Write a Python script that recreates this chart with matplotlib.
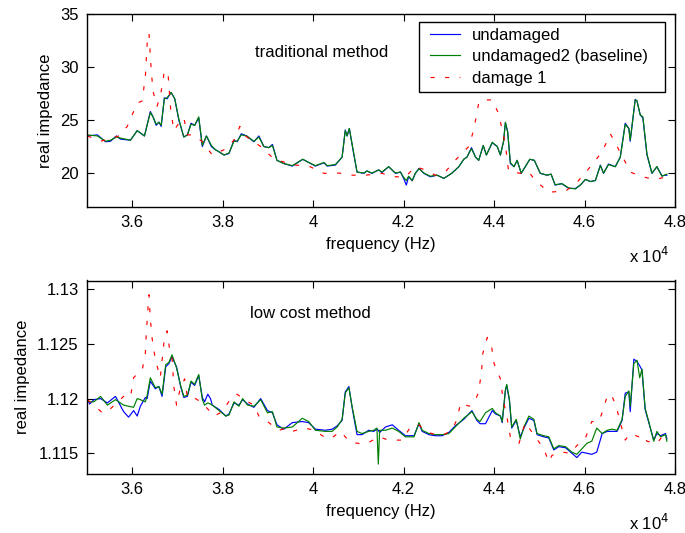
import matplotlib
matplotlib.use("Agg")
import matplotlib.pyplot as plt
from matplotlib.patches import Rectangle
from matplotlib.ticker import FuncFormatter

# ── Data (frequency in Hz) ────────────────────────────────────────────────────

# traditional method
trad_freq = [35010, 35230, 35410, 35520, 35650, 35740, 35960, 36110, 36270, 36400,
             36460, 36530, 36590, 36640, 36710, 36770, 36860, 36940, 37030, 37140,
             37220, 37300, 37380, 37470, 37550, 37640, 37750, 37840, 37920, 38030,
             38140, 38250, 38320, 38410, 38530, 38690, 38800, 38910, 39020, 39100,
             39200, 39350, 39540, 39770, 39900, 40050, 40240, 40310, 40490, 40640,
             40710, 40750, 40800, 40880, 40970, 41120, 41190, 41300, 41450, 41520,
             41670, 41820, 41930, 42000, 42060, 42110, 42190, 42260, 42340, 42450,
             42590, 42740, 42890, 43070, 43220, 43330, 43400, 43500, 43590, 43660,
             43760, 43830, 43960, 44070, 44140, 44210, 44250, 44300, 44360, 44440,
             44510, 44600, 44690, 44790, 44890, 45020, 45170, 45260, 45350, 45500,
             45650, 45800, 45910, 46020, 46130, 46240, 46350, 46420, 46530, 46680,
             46790, 46900, 46980, 47010, 47120, 47160, 47230, 47290, 47380, 47490,
             47600, 47710, 47820]
trad_undamaged = [23.5, 23.6, 22.95, 23.0, 23.5, 23.2, 23.1, 24.0, 23.5, 25.8,
                  25.3, 24.5, 24.8, 24.4, 27.1, 27.0, 27.6, 27.0, 25.0, 23.4,
                  23.6, 24.7, 24.5, 25.2, 22.5, 23.5, 22.5, 22.2, 22.0, 21.7,
                  21.85, 23.1, 22.95, 23.7, 23.5, 22.95, 23.5, 22.5, 22.4, 22.7,
                  21.2, 20.9, 20.66, 21.3, 21.0, 20.66, 20.97, 20.66, 20.75, 21.5,
                  24.06, 23.5, 24.2, 22.2, 20.1, 19.97, 20.2, 19.97, 20.3, 20.05,
                  20.6, 19.97, 20.1, 19.5, 18.87, 19.65, 19.27, 19.97, 20.44, 19.97,
                  19.65, 19.8, 19.5, 20.0, 20.6, 21.3, 21.5, 22.4, 21.5, 21.2,
                  22.6, 21.7, 22.86, 22.5, 21.7, 23.0, 24.75, 23.9, 20.9, 20.6,
                  21.2, 19.97, 20.6, 21.3, 21.2, 19.97, 19.8, 19.9, 18.87, 19.0,
                  18.55, 18.55, 18.87, 19.4, 19.2, 19.3, 20.75, 19.97, 20.85, 20.6,
                  21.5, 24.7, 24.2, 23.0, 26.95, 26.8, 25.5, 25.2, 21.7, 19.97,
                  20.6, 19.75, 19.8]
trad_baseline = [23.6, 23.5, 23.0, 23.1, 23.4, 23.3, 23.1, 24.0, 23.5, 25.7,
                 25.3, 24.6, 24.8, 24.5, 27.0, 27.1, 27.6, 27.0, 25.1, 23.4,
                 23.6, 24.6, 24.5, 25.3, 22.6, 23.5, 22.6, 22.2, 22.0, 21.7,
                 21.9, 23.0, 23.0, 23.6, 23.5, 23.0, 23.4, 22.5, 22.4, 22.6,
                 21.2, 20.9, 20.7, 21.3, 21.0, 20.7, 21.0, 20.7, 20.8, 21.5,
                 24.0, 23.5, 24.2, 22.3, 20.1, 20.0, 20.2, 20.0, 20.3, 20.1,
                 20.6, 20.0, 20.1, 19.6, 19.3, 19.7, 19.3, 20.0, 20.4, 20.0,
                 19.7, 19.8, 19.5, 20.0, 20.6, 21.3, 21.5, 22.3, 21.5, 21.2,
                 22.6, 21.7, 22.9, 22.5, 21.7, 23.0, 24.8, 23.9, 21.0, 20.6,
                 21.2, 20.0, 20.6, 21.3, 21.2, 20.0, 19.8, 19.9, 18.9, 19.0,
                 18.6, 18.5, 18.9, 19.4, 19.2, 19.3, 20.7, 20.0, 20.8, 20.6,
                 21.5, 24.6, 24.2, 23.1, 26.9, 26.8, 25.5, 25.3, 21.8, 20.0,
                 20.6, 19.7, 19.9]

trad_dmg_freq = [35010, 35300, 35710, 35890, 36000, 36110, 36220, 36290, 36330, 36370,
                 36420, 36460, 36550, 36640, 36710, 36790, 36850, 36920, 37030, 37140,
                 37220, 37360, 37550, 37770, 38030, 38250, 38380, 38500, 38840, 39090,
                 39240, 39450, 39610, 39900, 40240, 40570, 40860, 41160, 41520, 41820,
                 42040, 42260, 42480, 42700, 42920, 43140, 43290, 43440, 43550, 43660,
                 43730, 43960, 44100, 44250, 44320, 44580, 44770, 44910, 45210, 45580,
                 45830, 46130, 46390, 46570, 46720, 46870, 47010, 47270, 47560, 47820]
trad_damage = [23.5, 23.0, 23.5, 24.4, 25.5, 26.6, 26.8, 29.1, 32.2, 33.2,
               29.7, 27.7, 26.3, 27.7, 29.6, 29.5, 26.0, 24.0, 24.7, 25.2,
               23.6, 23.6, 22.95, 21.7, 22.2, 23.1, 24.4, 23.5, 22.5, 21.5,
               21.2, 20.9, 20.75, 20.66, 19.97, 20.0, 19.8, 19.8, 19.97, 19.65,
               19.65, 20.6, 20.3, 19.8, 20.1, 21.2, 21.85, 22.5, 24.06, 26.6,
               26.9, 26.9, 25.6, 22.7, 20.2, 19.97, 20.1, 19.3, 18.2, 18.3,
               19.1, 20.6, 22.0, 23.7, 22.5, 21.3, 20.1, 19.65, 19.4, 19.65]

# low cost method
low_freq = [35010, 35060, 35150, 35300, 35450, 35630, 35810, 35920, 36030, 36110,
            36180, 36290, 36330, 36400, 36510, 36590, 36660, 36740, 36810, 36880,
            36980, 37070, 37140, 37220, 37300, 37380, 37470, 37550, 37600, 37670,
            37730, 37770, 37920, 38070, 38140, 38250, 38360, 38440, 38550, 38690,
            38840, 38990, 39100, 39200, 39350, 39540, 39760, 39900, 40050, 40270,
            40420, 40530, 40640, 40710, 40790, 40860, 40970, 41080, 41230, 41340,
            41410, 41440, 41470, 41600, 41750, 41890, 42040, 42230, 42340, 42410,
            42560, 42700, 42850, 43000, 43140, 43330, 43510, 43620, 43690, 43810,
            43960, 44030, 44140, 44180, 44250, 44280, 44340, 44390, 44490, 44580,
            44660, 44770, 44880, 44950, 45100, 45210, 45320, 45430, 45580, 45720,
            45830, 45940, 46050, 46160, 46270, 46390, 46500, 46610, 46720, 46830,
            46900, 46980, 47010, 47090, 47160, 47220, 47270, 47340, 47420, 47530,
            47600, 47680, 47790, 47820]
low_baseline = [1.1198, 1.1197, 1.1197, 1.1202, 1.1194, 1.1199, 1.1194, 1.1193, 1.1192, 1.1200,
                1.1199, 1.1197, 1.1203, 1.1219, 1.1210, 1.1211, 1.1204, 1.1231, 1.1233, 1.1240,
                1.1228, 1.1212, 1.1202, 1.1203, 1.1216, 1.1213, 1.1222, 1.1199, 1.1194, 1.1196,
                1.1195, 1.1194, 1.1189, 1.1184, 1.1185, 1.1197, 1.1193, 1.1200, 1.1194, 1.1193,
                1.1199, 1.1187, 1.1188, 1.1174, 1.1173, 1.1174, 1.1182, 1.1179, 1.1171, 1.1170,
                1.1170, 1.1174, 1.1181, 1.1205, 1.1210, 1.1193, 1.1170, 1.1168, 1.1170, 1.1171,
                1.1173, 1.1140, 1.1171, 1.1171, 1.1173, 1.1170, 1.1165, 1.1165, 1.1178, 1.1171,
                1.1168, 1.1167, 1.1167, 1.1168, 1.1174, 1.1182, 1.1188, 1.1181, 1.1179, 1.1187,
                1.1191, 1.1187, 1.1184, 1.1179, 1.1208, 1.1213, 1.1199, 1.1174, 1.1181, 1.1163,
                1.1174, 1.1184, 1.1181, 1.1168, 1.1166, 1.1165, 1.1154, 1.1157, 1.1156, 1.1151,
                1.1149, 1.1154, 1.1159, 1.1161, 1.1173, 1.1168, 1.1171, 1.1172, 1.1171, 1.1181,
                1.1202, 1.1207, 1.1193, 1.1232, 1.1235, 1.1219, 1.1227, 1.1191, 1.1179, 1.1161,
                1.1170, 1.1165, 1.1167, 1.1161]
low_undamaged = [1.1199, 1.1195, 1.1199, 1.1200, 1.1196, 1.1202, 1.1188, 1.1183, 1.1189, 1.1184,
                 1.1193, 1.1201, 1.1200, 1.1216, 1.1209, 1.1211, 1.1202, 1.1229, 1.1232, 1.1238,
                 1.1229, 1.1211, 1.1201, 1.1202, 1.1215, 1.1212, 1.1221, 1.1201, 1.1197, 1.1204,
                 1.1200, 1.1194, 1.1190, 1.1184, 1.1186, 1.1196, 1.1194, 1.1199, 1.1195, 1.1192,
                 1.1200, 1.1189, 1.1187, 1.1176, 1.1172, 1.1178, 1.1179, 1.1178, 1.1172, 1.1171,
                 1.1172, 1.1175, 1.1180, 1.1206, 1.1211, 1.1192, 1.1167, 1.1167, 1.1171, 1.1170,
                 1.1172, 1.1171, 1.1169, 1.1174, 1.1176, 1.1171, 1.1166, 1.1166, 1.1177, 1.1170,
                 1.1167, 1.1166, 1.1166, 1.1169, 1.1175, 1.1181, 1.1189, 1.1180, 1.1177, 1.1177,
                 1.1189, 1.1186, 1.1184, 1.1178, 1.1207, 1.1212, 1.1198, 1.1173, 1.1180, 1.1165,
                 1.1173, 1.1182, 1.1180, 1.1167, 1.1165, 1.1164, 1.1153, 1.1156, 1.1155, 1.1150,
                 1.1146, 1.1151, 1.1150, 1.1149, 1.1151, 1.1168, 1.1170, 1.1170, 1.1170, 1.1180,
                 1.1205, 1.1206, 1.1188, 1.1236, 1.1234, 1.1230, 1.1226, 1.1190, 1.1178, 1.1162,
                 1.1168, 1.1166, 1.1168, 1.1163]

low_dmg_freq = [35010, 35340, 35450, 35810, 35960, 36030, 36140, 36220, 36290, 36310,
                36340, 36370, 36400, 36440, 36510, 36620, 36710, 36770, 36830, 36880,
                36920, 36980, 37070, 37160, 37220, 37360, 37550, 37810, 37990, 38210,
                38320, 38470, 38690, 38800, 39020, 39240, 39430, 39540, 39800, 40050,
                40200, 40380, 40600, 40820, 41010, 41190, 41450, 41670, 41970, 42150,
                42340, 42480, 42700, 42890, 43070, 43180, 43260, 43450, 43570, 43650,
                43720, 43750, 43850, 43940, 44000, 44140, 44200, 44280, 44360, 44550,
                44690, 44910, 45100, 45210, 45280, 45500, 45690, 45830, 46020, 46160,
                46310, 46390, 46500, 46590, 46700, 46790, 46900, 47010, 47200, 47270,
                47380, 47600, 47750]
low_damage = [1.1199, 1.1187, 1.1188, 1.1202, 1.1201, 1.1219, 1.1224, 1.1226, 1.1241, 1.1259,
              1.1278, 1.1295, 1.1273, 1.1255, 1.1236, 1.1219, 1.1255, 1.1262, 1.1244, 1.1238,
              1.1211, 1.1194, 1.1211, 1.1218, 1.1201, 1.1201, 1.1196, 1.1184, 1.1188, 1.1202,
              1.1204, 1.1199, 1.1194, 1.1184, 1.1178, 1.1171, 1.1173, 1.1170, 1.1173, 1.1171,
              1.1166, 1.1163, 1.1170, 1.1160, 1.1159, 1.1159, 1.1165, 1.1162, 1.1162, 1.1174,
              1.1176, 1.1170, 1.1167, 1.1167, 1.1171, 1.1181, 1.1196, 1.1193, 1.1197, 1.1205,
              1.1223, 1.1241, 1.1256, 1.1249, 1.1232, 1.1218, 1.1199, 1.1184, 1.1165, 1.1159,
              1.1178, 1.1165, 1.1154, 1.1142, 1.1148, 1.1151, 1.1150, 1.1157, 1.1164, 1.1179,
              1.1179, 1.1187, 1.1202, 1.1204, 1.1193, 1.1178, 1.1162, 1.1168, 1.1165, 1.1167,
              1.1161, 1.1159, 1.1167]

x_ticks = [36000, 38000, 40000, 42000, 44000, 46000, 48000]
top_yticks = [20, 25, 30, 35]
low_yticks = [1.115, 1.12, 1.125, 1.13]

# ── Style ─────────────────────────────────────────────────────────────────────

plt.rcParams["font.family"] = ["Liberation Sans", "DejaVu Sans"]
plt.rcParams["font.size"] = 12
plt.rcParams["lines.scale_dashes"] = False

BLUE  = "#0000ff"
GREEN = "#008000"
RED   = "#ff0000"
DASH  = (0, (3, 7.5))
LW    = 0.85

fig = plt.figure(figsize=(6.85, 5.33), dpi=100)
fig.patch.set_facecolor("white")

ax_top = fig.add_axes([87 / 685, 1 - 207 / 533, 588 / 685, 193 / 533])
ax_low = fig.add_axes([87 / 685, 1 - 474 / 533, 588 / 685, 193.5 / 533])


def style_axes(ax, yticks, ylim):
    ax.set_xlim(35000, 48000)
    ax.set_ylim(*ylim)
    ax.set_xticks(x_ticks)
    ax.set_yticks(yticks)
    ax.xaxis.set_major_formatter(FuncFormatter(lambda v, _: "%g" % (v / 1e4)))
    ax.yaxis.set_major_formatter(FuncFormatter(lambda v, _: "%g" % round(v, 4)))
    ax.tick_params(direction="in", length=5, width=0.8, top=True, right=True,
                   labelsize=12, pad=6)
    for s in ax.spines.values():
        s.set_linewidth(1.0)
    ax.set_xlabel("frequency (Hz)", labelpad=5)
    ax.set_ylabel("real impedance", labelpad=5)
    ax.text(0.99, -0.255, "x 10$^{4}$", transform=ax.transAxes,
            ha="right", va="center", fontsize=12)


# ── Top: traditional method ───────────────────────────────────────────────────

ax_top.plot(trad_freq, trad_undamaged, color=BLUE, lw=LW, label="undamaged")
ax_top.plot(trad_freq, trad_baseline, color=GREEN, lw=LW, label="undamaged2 (baseline)")
ax_top.plot(trad_dmg_freq, trad_damage, color=RED, lw=LW, linestyle=DASH, label="damage 1")
style_axes(ax_top, top_yticks, (16.8, 35))
ax_top.text(0.286, 0.80, "traditional method", transform=ax_top.transAxes,
            ha="left", va="center", fontsize=12)

# legend box drawn by hand so the padding matches the MATLAB look
ax_top.add_patch(Rectangle((0.5646, 0.596), 0.4184, 0.3625, transform=ax_top.transAxes,
                           facecolor="white", edgecolor="black", lw=1.0, zorder=4))
leg = ax_top.legend(loc="upper left", bbox_to_anchor=(0.5833, 0.928),
                    borderaxespad=0, borderpad=0, frameon=False, fontsize=12,
                    handlelength=1.8, handletextpad=0.72, labelspacing=0.38)
leg.set_zorder(5)

# ── Bottom: low cost method ───────────────────────────────────────────────────

ax_low.plot(low_freq, low_undamaged, color=BLUE, lw=LW)
ax_low.plot(low_freq, low_baseline, color=GREEN, lw=LW)
ax_low.plot(low_dmg_freq, low_damage, color=RED, lw=LW, linestyle=DASH)
style_axes(ax_low, low_yticks, (1.1131, 1.1308))
ax_low.text(0.277, 0.827, "low cost method", transform=ax_low.transAxes,
            ha="left", va="center", fontsize=12)

fig.savefig("out.png", dpi=100)
